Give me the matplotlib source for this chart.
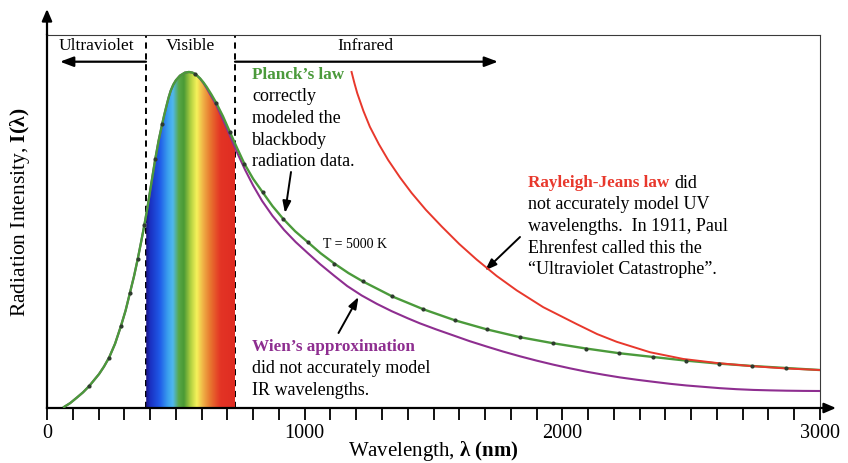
import numpy as np
import matplotlib
matplotlib.use("Agg")
import matplotlib.pyplot as plt
from matplotlib.colors import LinearSegmentedColormap
from matplotlib.patches import Polygon

# ---------------- data ----------------
planck_lam = [66, 90, 116, 140, 164, 202, 221, 241, 264, 287, 305, 322, 338, 352,
              365, 378, 390, 400, 410, 420, 433, 447, 455, 464, 472, 480, 490, 500,
              516, 535, 551, 565, 580, 594, 607, 620, 638, 656, 683, 710, 738, 766,
              800, 837, 875, 917, 963, 1013, 1062, 1115, 1170, 1225, 1340, 1460,
              1583, 1707, 1834, 1962, 2092, 2221, 2350, 2480, 2609, 2738, 2868, 3000]
planck_I = [0.003, 0.0146, 0.031, 0.0467, 0.0655, 0.101, 0.123, 0.150, 0.191, 0.244,
            0.290, 0.343, 0.393, 0.443, 0.493, 0.545, 0.597, 0.645, 0.693, 0.740,
            0.795, 0.845, 0.872, 0.900, 0.924, 0.944, 0.962, 0.975, 0.989, 0.998,
            1.000, 0.998, 0.991, 0.981, 0.969, 0.955, 0.933, 0.909, 0.868, 0.821,
            0.773, 0.727, 0.682, 0.642, 0.601, 0.5625, 0.526, 0.493, 0.4605, 0.430,
            0.4015, 0.377, 0.332, 0.294, 0.261, 0.234, 0.211, 0.193, 0.177, 0.163,
            0.152, 0.141, 0.132, 0.125, 0.119, 0.113]

data_lam = [164, 241, 287, 322, 352, 378, 420, 447, 574, 656, 710, 766, 837, 917,
            1013, 1115, 1225, 1340, 1460, 1583, 1707, 1834, 1962, 2092, 2221, 2350,
            2480, 2609, 2738, 2868]
data_I = [0.0655, 0.150, 0.244, 0.343, 0.443, 0.545, 0.740, 0.845, 0.994, 0.909,
          0.821, 0.727, 0.642, 0.5625, 0.493, 0.430, 0.377, 0.332, 0.294, 0.261,
          0.234, 0.211, 0.193, 0.177, 0.163, 0.152, 0.141, 0.132, 0.125, 0.119]

wien_lam = [66, 90, 116, 140, 164, 202, 221, 241, 264, 287, 305, 322, 338, 352,
            365, 378, 390, 400, 410, 420, 433, 447, 455, 464, 472, 480, 490, 500,
            516, 535, 551, 565, 580, 594, 607, 620, 656, 683, 710, 738, 768, 800,
            835, 875, 920, 965, 1012, 1060, 1114, 1165, 1221, 1280, 1338, 1400,
            1447, 1510, 1577, 1640, 1706, 1770, 1835, 1900, 1965, 2030, 2094, 2160,
            2224, 2290, 2353, 2418, 2482, 2547, 2612, 2676, 2741, 2806, 2870, 2935,
            3000]
wien_I = [0.003, 0.0146, 0.031, 0.0467, 0.0655, 0.101, 0.123, 0.150, 0.191, 0.244,
          0.290, 0.343, 0.393, 0.443, 0.493, 0.545, 0.597, 0.645, 0.693, 0.740,
          0.795, 0.845, 0.872, 0.900, 0.924, 0.944, 0.962, 0.975, 0.989, 0.998,
          1.000, 0.998, 0.991, 0.980, 0.967, 0.951, 0.903, 0.858, 0.810, 0.760,
          0.710, 0.662, 0.616, 0.572, 0.530, 0.494, 0.461, 0.428, 0.394, 0.363,
          0.335, 0.310, 0.288, 0.267, 0.252, 0.234, 0.216, 0.199, 0.183, 0.168,
          0.154, 0.141, 0.129, 0.118, 0.108, 0.099, 0.091, 0.084, 0.078, 0.072,
          0.067, 0.063, 0.059, 0.056, 0.0538, 0.0525, 0.0515, 0.0509, 0.0506]

rj_lam = [1182, 1193, 1204, 1228, 1253, 1288, 1324, 1370, 1415, 1470, 1532, 1600,
          1667, 1745, 1823, 1926, 2055, 2135, 2211, 2340, 2469, 2599, 2728, 2860,
          3000]
rj_I = [1.000, 0.967, 0.937, 0.884, 0.837, 0.785, 0.738, 0.686, 0.640, 0.590,
        0.540, 0.488, 0.442, 0.393, 0.350, 0.300, 0.250, 0.220, 0.197, 0.166,
        0.146, 0.134, 0.125, 0.118, 0.113]

visible_range = [385, 730]
spectrum_lam = [385, 400, 438, 470, 489, 512, 532, 558, 582, 605, 633, 660, 675, 730]
spectrum_colors = ["#1c1485", "#1a2fc0", "#1f5ae8", "#3aa0ee", "#50b8ee", "#58a848",
                   "#4a9a35", "#b0d040", "#f5f25a", "#f0b548", "#e87a30", "#e54a28",
                   "#e33425", "#df2c22"]

major_ticks = [0, 1000, 2000, 3000]
minor_ticks = list(range(0, 3001, 100))
x_range = [0, 3000]
y_top = 1.11

# ---------------- styling ----------------
W, H = 848, 463
SERIF = "Liberation Serif"
plt.rcParams["font.family"] = [SERIF, "DejaVu Serif"]
plt.rcParams["mathtext.fontset"] = "custom"
plt.rcParams["mathtext.rm"] = SERIF
plt.rcParams["mathtext.it"] = SERIF + ":italic"
plt.rcParams["mathtext.bf"] = SERIF + ":bold"

GREEN = "#4b9a3b"
PURPLE = "#8e2e90"
RED = "#e8382c"


def fp(x, y):
    """figure-pixel position -> figure fraction"""
    return (x / W, 1 - y / H)


fig = plt.figure(figsize=(W / 100, H / 100), dpi=100)
ax = fig.add_axes([47 / W, 1 - 408 / H, (820 - 47) / W, (408 - 35) / H])

# visible spectrum fill under the Planck curve
lam_arr = np.array(planck_lam, dtype=float)
I_arr = np.array(planck_I, dtype=float)
lo, hi = visible_range
inside = (lam_arr > lo) & (lam_arr < hi)
poly_x = [lo] + list(lam_arr[inside]) + [hi]
poly_y = [np.interp(lo, lam_arr, I_arr)] + list(I_arr[inside]) + [np.interp(hi, lam_arr, I_arr)]
verts = [(lo, 0)] + list(zip(poly_x, poly_y)) + [(hi, 0)]
clip = Polygon(verts, closed=True, facecolor="none", edgecolor="none",
               transform=ax.transData)
ax.add_patch(clip)
pos = [(l - lo) / (hi - lo) for l in spectrum_lam]
cmap = LinearSegmentedColormap.from_list("spec", list(zip(pos, spectrum_colors)))
grad = np.linspace(0, 1, 512).reshape(1, -1)
im = ax.imshow(grad, extent=[lo, hi, 0, 1.02], aspect="auto", cmap=cmap,
               zorder=1, interpolation="bilinear")
im.set_clip_path(clip)

# dashed region boundaries
for v in visible_range:
    ax.axvline(v, color="black", lw=1.4, ls=(0, (3.2, 2.4)), zorder=0.5)

# curves
ax.plot(wien_lam, wien_I, color=PURPLE, lw=1.5, zorder=3, solid_joinstyle="round")
ax.plot(planck_lam, planck_I, color=GREEN, lw=1.7, zorder=4, solid_joinstyle="round")
ax.plot(rj_lam, rj_I, color=RED, lw=1.4, zorder=5, solid_joinstyle="round")
ax.plot(data_lam, data_I, ls="none", marker="o", ms=3.0, mec="none",
        color="#2e3b2e", zorder=6)

# axes
ax.set_xlim(*x_range)
ax.set_ylim(0, y_top)
ax.set_yticks([])
ax.set_xticks(major_ticks)
ax.set_xticks(minor_ticks, minor=True)
ax.set_xticklabels([str(t) for t in major_ticks], fontsize=14.5)
ax.tick_params(axis="x", which="both", direction="out", length=8.6, width=1.3,
               color="black", pad=3)
for s in ("left", "bottom"):
    ax.spines[s].set_linewidth(1.6)
    ax.spines[s].set_color("black")
for s in ("top", "right"):
    ax.spines[s].set_linewidth(0.8)
    ax.spines[s].set_color("#3a3a3a")

# axis arrows
ax.annotate("", xy=(0, 1 + 26 / 373), xytext=(0, 1), xycoords="axes fraction",
            arrowprops=dict(arrowstyle="-|>,head_length=0.7,head_width=0.3",
                            lw=1.6, color="black", shrinkA=0, shrinkB=0),
            annotation_clip=False)
ax.annotate("", xy=(1 + 16 / 773, 0), xytext=(1, 0), xycoords="axes fraction",
            arrowprops=dict(arrowstyle="-|>,head_length=0.7,head_width=0.3",
                            lw=1.6, color="black", shrinkA=0, shrinkB=0),
            annotation_clip=False)

# axis labels
fig.text(*fp(20, 212), r"Radiation Intensity, $\mathbf{I(\lambda)}$", rotation=90,
         ha="center", va="center", fontsize=15.5)
fig.text(*fp(433, 451), r"Wavelength, $\mathbf{\lambda\ (nm)}$",
         ha="center", va="center", fontsize=15)

# region labels and arrows
fig.text(*fp(96, 46), "Ultraviolet", ha="center", va="center", fontsize=12.5)
fig.text(*fp(190, 46), "Visible", ha="center", va="center", fontsize=12.5)
fig.text(*fp(365, 46), "Infrared", ha="center", va="center", fontsize=12.5)
arrow_kw = dict(arrowstyle="-|>,head_length=0.8,head_width=0.3", lw=1.6,
                color="black", shrinkA=0, shrinkB=0)
ax.annotate("", xy=fp(60, 61.7), xytext=fp(146, 61.7), xycoords="figure fraction",
            arrowprops=arrow_kw, annotation_clip=False)
ax.annotate("", xy=fp(498, 61.7), xytext=fp(235, 61.7), xycoords="figure fraction",
            arrowprops=arrow_kw, annotation_clip=False)

# annotations
LS = 21.7
BOLD = 12.3
fig.text(*fp(252, 75), "Planck’s law", color=GREEN, fontweight="bold",
         fontsize=BOLD, ha="left", va="center")
for i, line in enumerate(["correctly", "modeled the", "blackbody", "radiation data."]):
    fig.text(*fp(252, 75 + LS * (i + 1)), line, fontsize=13, ha="left", va="center")

fig.text(*fp(323, 245), "T = 5000 K", fontsize=10, ha="left", va="center")

t_rj = fig.text(*fp(528, 183), "Rayleigh-Jeans law", color=RED, fontweight="bold",
                fontsize=BOLD, ha="left", va="center")
ax.annotate("did", xy=(1, 0.5), xycoords=t_rj, xytext=(3.5, 0),
            textcoords="offset points", fontsize=13, ha="left", va="center",
            annotation_clip=False)
rj_lines = ["not accurately model UV", "wavelengths.  In 1911, Paul",
            "Ehrenfest called this the", "“Ultraviolet Catastrophe”."]
for i, line in enumerate(rj_lines):
    fig.text(*fp(528, 183 + LS * (i + 1)), line, fontsize=13, ha="left", va="center")

fig.text(*fp(252, 347), "Wien’s approximation", color=PURPLE, fontweight="bold",
         fontsize=BOLD, ha="left", va="center")
for i, line in enumerate(["did not accurately model", "IR wavelengths."]):
    fig.text(*fp(252, 347 + LS * (i + 1)), line, fontsize=13, ha="left", va="center")

pointer_kw = dict(arrowstyle="-|>,head_length=0.7,head_width=0.25", lw=1.4,
                  color="black", shrinkA=0, shrinkB=0)
ax.annotate("", xy=fp(285, 213), xytext=fp(291, 172), xycoords="figure fraction",
            arrowprops=pointer_kw, annotation_clip=False)
ax.annotate("", xy=fp(485, 270.5), xytext=fp(520, 237), xycoords="figure fraction",
            arrowprops=pointer_kw, annotation_clip=False)
ax.annotate("", xy=fp(358.5, 297), xytext=fp(338.5, 333), xycoords="figure fraction",
            arrowprops=pointer_kw, annotation_clip=False)

fig.savefig("out.png", dpi=100)
